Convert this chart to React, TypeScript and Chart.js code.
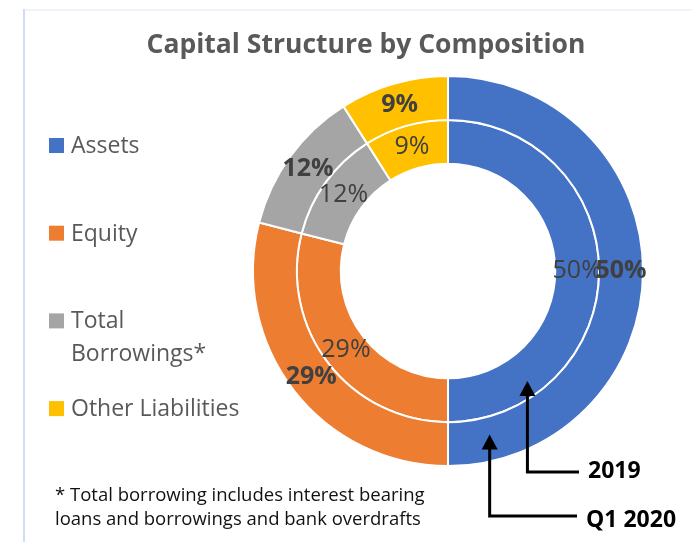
import React, { useEffect, useRef } from 'react';
import { Chart, registerables } from 'chart.js';

Chart.register(...registerables);

const categories = ['Assets', 'Equity', 'Total Borrowings*', 'Other Liabilities'];
const seriesNames = ['Q1 2020', '2019'];
const valuesQ12020 = [50, 29, 12, 9];
const values2019 = [50, 29, 12, 9];
const sliceColors = ['#4472C4', '#ED7D31', '#A5A5A5', '#FFC000'];
const titleText = 'Capital Structure by Composition';
const footnoteLines = [
  '* Total borrowing includes interest bearing',
  'loans and borrowings and bank overdrafts',
];

const FONT = '"Open Sans", "DejaVu Sans", sans-serif';

function wrapText(ctx: CanvasRenderingContext2D, text: string, maxWidth: number): string[] {
  const words = text.split(' ');
  const lines: string[] = [];
  let cur = '';
  for (const w of words) {
    const test = cur ? cur + ' ' + w : w;
    if (ctx.measureText(test).width > maxWidth && cur) {
      lines.push(cur);
      cur = w;
    } else {
      cur = test;
    }
  }
  if (cur) lines.push(cur);
  return lines;
}

const overlayPlugin = {
  id: 'overlay',
  afterDraw(chart: any) {
    const ctx: CanvasRenderingContext2D = chart.ctx;
    ctx.save();

    // frame lines
    ctx.fillStyle = '#f1f3fa';
    ctx.fillRect(23, 9, chart.width - 23, 2);
    ctx.fillStyle = '#cfdcf3';
    ctx.fillRect(23, 9, 2, chart.height - 9);

    // title
    ctx.fillStyle = '#595959';
    ctx.font = `bold 26.5px ${FONT}`;
    ctx.textAlign = 'center';
    ctx.textBaseline = 'alphabetic';
    ctx.fillText(titleText, 366, 53);

    // legend
    const labels: string[] = chart.data.labels;
    ctx.font = `23px ${FONT}`;
    ctx.textAlign = 'left';
    labels.forEach((lab, i) => {
      const baseY = 153 + 87.7 * i;
      const ds = chart.data.datasets[0];
      ctx.fillStyle = ds.backgroundColor[i];
      ctx.fillRect(49, baseY - 15, 15, 15);
      ctx.fillStyle = '#595959';
      const lines = wrapText(ctx, lab, 180);
      lines.forEach((ln, j) => ctx.fillText(ln, 71, baseY + j * 33));
    });

    // data labels (inner first, outer on top)
    ctx.textAlign = 'center';
    ctx.textBaseline = 'middle';
    ctx.fillStyle = '#404040';
    for (let di = chart.data.datasets.length - 1; di >= 0; di--) {
      const ds = chart.data.datasets[di];
      const meta = chart.getDatasetMeta(di);
      ctx.font = `${di === 0 ? 'bold ' : ''}25px ${FONT}`;
      meta.data.forEach((arc: any, i: number) => {
        const p = arc.getCenterPoint();
        ctx.fillText(`${ds.data[i]}%`, p.x, p.y);
      });
    }

    // arrows pointing to the rings
    const outerArc: any = chart.getDatasetMeta(0).data[0];
    const innerArc: any = chart.getDatasetMeta(1).data[0];
    const cx = outerArc.x;
    const cy = outerArc.y;
    const arrows = [
      {
        label: seriesNames[1],
        angle: (54.2 * Math.PI) / 180,
        r: innerArc.innerRadius + 0.65 * (innerArc.outerRadius - innerArc.innerRadius),
        elbowY: 472,
        endX: 579,
        textX: 588,
        textY: 478,
      },
      {
        label: seriesNames[0],
        angle: (75.7 * Math.PI) / 180,
        r: outerArc.innerRadius + 0.4 * (outerArc.outerRadius - outerArc.innerRadius),
        elbowY: 516,
        endX: 577,
        textX: 586,
        textY: 527,
      },
    ];
    ctx.strokeStyle = '#000';
    ctx.fillStyle = '#000';
    ctx.lineWidth = 3;
    ctx.lineJoin = 'miter';
    arrows.forEach((a) => {
      const tx = cx + a.r * Math.cos(a.angle);
      const ty = cy + a.r * Math.sin(a.angle);
      ctx.beginPath();
      ctx.moveTo(tx, ty);
      ctx.lineTo(tx - 8, ty + 15);
      ctx.lineTo(tx + 8, ty + 15);
      ctx.closePath();
      ctx.fill();
      ctx.beginPath();
      ctx.moveTo(tx, ty + 12);
      ctx.lineTo(tx, a.elbowY);
      ctx.lineTo(a.endX, a.elbowY);
      ctx.stroke();
      ctx.font = `bold 23px ${FONT}`;
      ctx.textAlign = 'left';
      ctx.textBaseline = 'alphabetic';
      ctx.fillText(a.label, a.textX, a.textY);
    });

    // footnote
    ctx.fillStyle = '#111111';
    ctx.font = `18.5px ${FONT}`;
    ctx.textAlign = 'left';
    ctx.fillText(footnoteLines[0], 55, 501);
    ctx.fillText(footnoteLines[1], 55, 525);

    ctx.restore();
  },
};

export default function App() {
  const canvasRef = useRef<HTMLCanvasElement | null>(null);

  useEffect(() => {
    if (!canvasRef.current) return;
    const chart = new Chart(canvasRef.current, {
      type: 'doughnut',
      data: {
        labels: categories,
        datasets: [
          {
            label: seriesNames[0],
            data: valuesQ12020,
            backgroundColor: sliceColors,
            borderColor: '#ffffff',
            borderWidth: 2,
          },
          {
            label: seriesNames[1],
            data: values2019,
            backgroundColor: sliceColors,
            borderColor: '#ffffff',
            borderWidth: 2,
          },
        ],
      },
      options: {
        responsive: true,
        maintainAspectRatio: false,
        animation: false,
        cutout: '55%',
        layout: { padding: { left: 252, right: 48, top: 75, bottom: 75 } },
        plugins: {
          legend: { display: false },
          tooltip: { enabled: false },
          title: { display: false },
        },
      },
      plugins: [overlayPlugin],
    });
    let alive = true;
    if ((document as any).fonts?.load) {
      Promise.all([
        (document as any).fonts.load(`22px "Open Sans"`),
        (document as any).fonts.load(`bold 22px "Open Sans"`),
      ]).then(() => {
        if (alive) chart.draw();
      }).catch(() => {});
    }
    return () => {
      alive = false;
      chart.destroy();
    };
  }, []);

  return (
    <div style={{ position: 'fixed', left: 0, top: 0, width: 692, height: 542, background: '#fff' }}>
      <canvas ref={canvasRef} />
    </div>
  );
}
